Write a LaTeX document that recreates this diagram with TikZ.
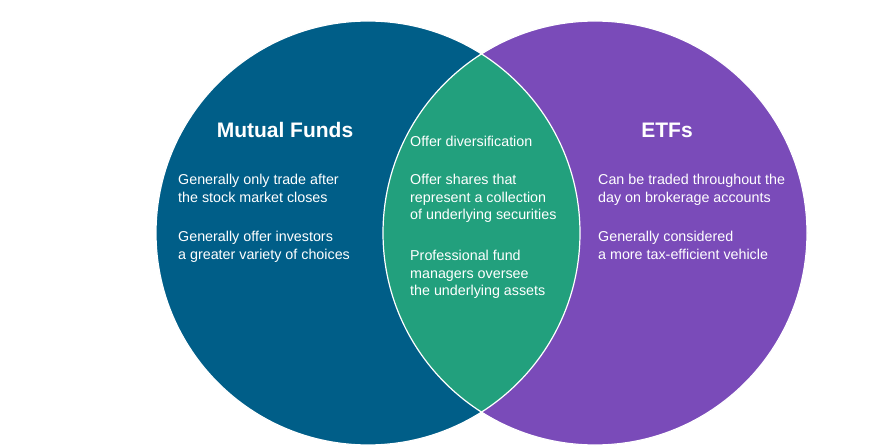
\documentclass[tikz,border=0pt]{standalone}
\usepackage{fontspec}
\setmainfont{Liberation Sans}
\definecolor{mf}{HTML}{005E88}
\definecolor{etf}{HTML}{7A4BB9}
\definecolor{both}{HTML}{22A07D}
\begin{document}
\begin{tikzpicture}[x=1pt,y=-1pt,
  txt/.style={text=white,font=\fontsize{14.3}{17.5}\selectfont,align=left,anchor=north west,inner sep=0pt},
  ttl/.style={text=white,font=\bfseries\fontsize{21}{24}\selectfont,inner sep=0pt}]
\useasboundingbox (0,0) rectangle (894,446);
\fill[white] (0,0) rectangle (894,446);
\fill[mf] (368,233) circle (212);
\fill[etf] (595,233) circle (212);
\begin{scope}
\clip (368,233) circle (212);
\fill[both] (595,233) circle (212);
\end{scope}
\draw[white,line width=1.2pt] (368,233) circle (212);
\draw[white,line width=1.2pt] (595,233) circle (212);
\node[ttl] (t1) at (285,130) {Mutual Funds};
\node[ttl] (t2) at (667,130) {ETFs};
\node[txt] (a) at (178,174) {Generally only trade after\\the stock market closes};
\node[txt] (b) at (178,231) {Generally offer investors\\a greater variety of choices};
\node[txt] (c) at (410,136) {Offer diversification};
\node[txt] (d) at (410,174) {Offer shares that\\represent a collection\\of underlying securities};
\node[txt] (e) at (410,250) {Professional fund\\managers oversee\\the underlying assets};
\node[txt] (f) at (598,174) {Can be traded throughout the\\day on brokerage accounts};
\node[txt] (g) at (598,231) {Generally considered\\a more tax-efficient vehicle};
\end{tikzpicture}
\end{document}
